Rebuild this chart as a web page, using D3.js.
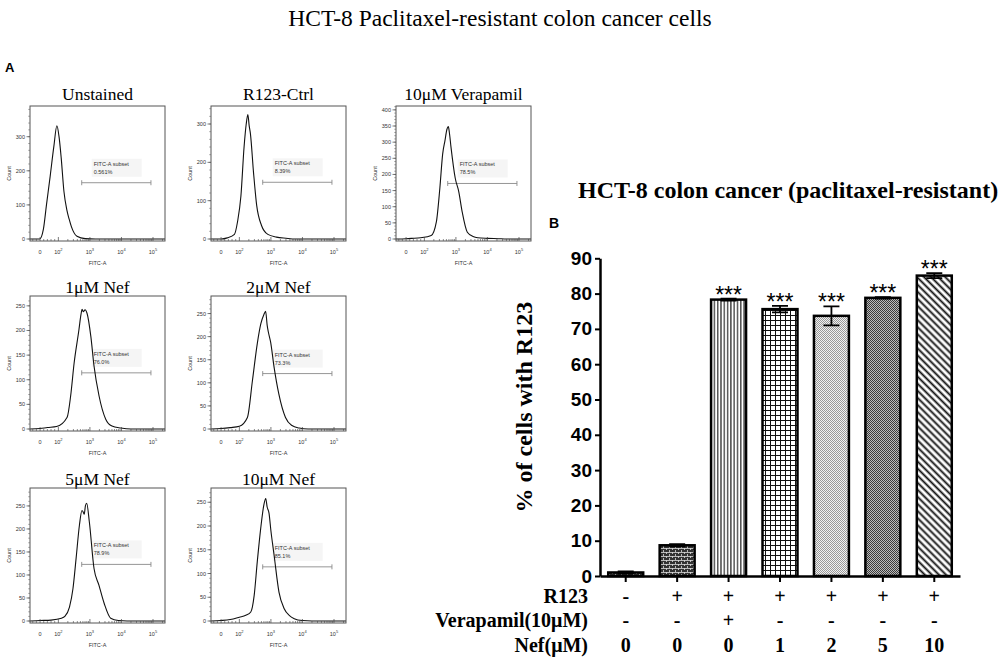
<!DOCTYPE html>
<html>
<head>
<meta charset="utf-8">
<script src="https://cdn.jsdelivr.net/npm/d3@7"></script>
<style>
  body { margin: 0; background: #fff; }
  svg { display: block; }
</style>
</head>
<body>
<svg id="fig" width="1000" height="659"></svg>
<script>
// ---------- Panel A data (flow cytometry histograms, FITC-A vs count) ----------
const histTitles = ['Unstained', 'R123-Ctrl', '10μM Verapamil', '1μM Nef', '2μM Nef', '5μM Nef', '10μM Nef'];
const histSubset = ['0.561%', '8.39%', '78.5%', '76.0%', '73.3%', '78.9%', '85.1%'];
const histYMax = [390, 347, 412, 270, 288, 289, 280];
const histYStep = [100, 100, 50, 50, 50, 50, 50];
const histGateCount = [165, 148, 172, 114, 120, 123, 114];
const gateRange = [550, 86000];
const fitcTicks = [0, 1e2, 1e3, 1e4, 1e5];

// [FITC-A, count]
const hUnstained = [[-55,0],[-2,0],[18,28],[35,100],[55,183],[75,270],[92,332],[105,300],[123,238],[150,140],[187,84],[220,58],[257,37],[389,8],[710,1],[1500,0],[240000,0]];
const hR123 = [[-55,0],[0,0],[34,3],[73,12],[90,45],[112,112],[141,240],[165,300],[186,325],[205,295],[224,275],[282,172],[355,87],[500,36],[800,12],[1500,5],[3000,2],[6000,0],[240000,0]];
const hVerapamil = [[-55,0],[0,1],[30,2],[80,4],[165,11],[240,53],[310,158],[380,263],[450,305],[520,340],[575,348],[620,330],[700,284],[950,189],[1230,147],[1580,84],[2300,21],[3500,8],[4900,4],[10000,2],[22000,1],[40000,0],[240000,0]];
const hNef1 = [[-55,0],[0,1],[40,3],[90,5],[190,24],[245,67],[316,134],[450,202],[520,232],[565,243],[620,238],[700,242],[810,235],[1070,188],[1350,128],[1950,67],[3170,20],[5000,6],[9500,2],[20000,0],[240000,0]];
const hNef2 = [[-55,0],[0,1],[50,3],[100,6],[180,25],[260,105],[370,185],[480,228],[600,248],[680,255],[760,225],[830,210],[980,188],[1260,134],[1780,76],[2900,25],[4500,8],[7900,2],[15000,0],[240000,0]];
const hNef5 = [[-55,0],[0,1],[60,2],[125,6],[160,10],[225,30],[290,70],[365,136],[465,208],[560,240],[620,236],[660,232],[720,250],[790,256],[960,215],[1350,114],[1930,78],[2840,38],[4560,6],[8000,1],[15000,0],[240000,0]];
const hNef10 = [[-55,0],[0,1],[50,3],[100,8],[160,12],[230,19],[295,54],[370,125],[475,195],[600,245],[685,258],[760,240],[870,227],[1000,190],[1260,139],[1800,61],[2640,26],[3800,12],[5500,5],[10000,1],[20000,0],[240000,0]];
const histSeries = [hUnstained, hR123, hVerapamil, hNef1, hNef2, hNef5, hNef10];

// ---------- Panel B data (bar chart) ----------
const barCats = ['Unstained', 'R123', 'Verapamil', 'Nef1', 'Nef2', 'Nef5', 'Nef10'];
const barValues = [1.0, 8.7, 78.3, 75.6, 73.7, 78.8, 85.1];
const barErrors = [0.3, 0.3, 0.3, 0.9, 2.7, 0.2, 0.7];
const barStars = ['', '', '***', '***', '***', '***', '***'];
const rowR123 = ['-', '+', '+', '+', '+', '+', '+'];
const rowVerapamil = ['-', '-', '+', '-', '-', '-', '-'];
const rowNef = ['0', '0', '0', '1', '2', '5', '10'];
const yTicksB = [0, 10, 20, 30, 40, 50, 60, 70, 80, 90];

const SERIF = '"Liberation Serif", "Times New Roman", serif';
const SANS = '"Liberation Sans", Arial, sans-serif';

const svg = d3.select('#fig');
const defs = svg.append('defs');

// titles
svg.append('text')
    .attr('x', 500).attr('y', 26)
    .attr('text-anchor', 'middle')
    .style('font-family', SERIF).style('font-size', '23.5px')
    .text('HCT-8 Paclitaxel-resistant colon cancer cells');

svg.append('text')
    .attr('x', 5).attr('y', 72)
    .style('font-family', SANS).style('font-size', '13px').style('font-weight', 'bold')
    .text('A');

// ---------- Panel A: histogram grid ----------
const colLeft = [30, 211, 396];
const rowTop = [106, 296, 488];
const slots = [[0, 0], [1, 0], [2, 0], [0, 1], [1, 1], [0, 2], [1, 2]];
const titleGap = [6, 3, 3];
const W = 135, H = 135;

// biexponential-like display: linear from 0 to 10^2, log above
const LIN_UNITS = 0.58;
function fitcT(v) {
    return v <= 100 ? v / 100 * LIN_UNITS : LIN_UNITS + Math.log10(v / 100);
}

function supLabel(sel, v) {
    sel.text(null);
    if (v === 0) { sel.text('0'); return; }
    sel.append('tspan').text('10');
    sel.append('tspan').attr('dy', -3).style('font-size', '4px').text(Math.round(Math.log10(v)));
}

const minorX = [-40, -20, 20, 40, 60, 80];
[2, 3, 4].forEach(k => d3.range(2, 10).forEach(m => minorX.push(m * Math.pow(10, k))));
minorX.push(2e5);

histSeries.forEach((data, i) => {
    const [c, r] = slots[i];
    const g = svg.append('g').attr('transform', `translate(${colLeft[c]},${rowTop[r]})`);

    const xs = d3.scaleLinear().domain([fitcT(-55), fitcT(240000)]).range([0, W]);
    const x = v => xs(fitcT(v));
    const y = d3.scaleLinear().domain([-histYMax[i] * 0.015, histYMax[i]]).range([H, 0]);

    const clipId = 'clip' + i;
    defs.append('clipPath').attr('id', clipId)
        .append('rect').attr('width', W).attr('height', H);

    // title
    g.append('text')
        .attr('x', W / 2).attr('y', -titleGap[r])
        .attr('text-anchor', 'middle')
        .style('font-family', SERIF).style('font-size', '17.5px')
        .text(histTitles[i]);

    // gate + label
    const gy = y(histGateCount[i]);
    const gx0 = x(gateRange[0]), gx1 = x(gateRange[1]);
    g.append('rect')
        .attr('x', gx0 + 10).attr('y', gy - 24)
        .attr('width', 50).attr('height', 18)
        .attr('fill', '#f5f5f5');
    g.append('text')
        .attr('x', gx0 + 12).attr('y', gy - 17)
        .style('font-family', SANS).style('font-size', '5.5px').style('fill', '#333')
        .text('FITC-A subset');
    g.append('text')
        .attr('x', gx0 + 12).attr('y', gy - 9)
        .style('font-family', SANS).style('font-size', '5.5px').style('fill', '#333')
        .text(histSubset[i]);
    g.append('path')
        .attr('d', `M${gx0},${gy}H${gx1}M${gx0},${gy - 2.5}V${gy + 2.5}M${gx1},${gy - 2.5}V${gy + 2.5}`)
        .attr('stroke', '#8a8a8a').attr('stroke-width', 0.9).attr('fill', 'none');

    // histogram line
    const line = d3.line()
        .x(d => x(d[0]))
        .y(d => y(d[1]))
        .curve(d3.curveMonotoneX);
    g.append('path')
        .datum(data)
        .attr('clip-path', `url(#${clipId})`)
        .attr('d', line)
        .attr('fill', 'none')
        .attr('stroke', '#111')
        .attr('stroke-width', 1.1);

    // x axis: ticks inside the frame
    g.selectAll('.xminor').data(minorX).join('line')
        .attr('x1', d => x(d)).attr('x2', d => x(d))
        .attr('y1', H).attr('y2', H - 2)
        .attr('stroke', '#444').attr('stroke-width', 0.6);
    g.selectAll('.xmajor').data(fitcTicks).join('line')
        .attr('x1', d => x(d)).attr('x2', d => x(d))
        .attr('y1', H).attr('y2', H - 4)
        .attr('stroke', '#444').attr('stroke-width', 0.7);
    g.selectAll('.xlab').data(fitcTicks).join('text')
        .attr('x', d => x(d)).attr('y', H + 13)
        .attr('text-anchor', 'middle')
        .style('font-family', SANS).style('font-size', '5.5px').style('fill', '#333')
        .each(function (d) { supLabel(d3.select(this), d); });
    g.append('text')
        .attr('x', W / 2).attr('y', H + 24)
        .attr('text-anchor', 'middle')
        .style('font-family', SANS).style('font-size', '5.5px').style('fill', '#333')
        .text('FITC-A');

    // y axis
    const yMajor = d3.range(0, histYMax[i], histYStep[i]);
    const yMinor = d3.range(0, histYMax[i], histYStep[i] / 5);
    g.selectAll('.yminor').data(yMinor).join('line')
        .attr('x1', 0).attr('x2', -1.8)
        .attr('y1', d => y(d)).attr('y2', d => y(d))
        .attr('stroke', '#555').attr('stroke-width', 0.5);
    g.selectAll('.ymajor').data(yMajor).join('line')
        .attr('x1', 0).attr('x2', -3.5)
        .attr('y1', d => y(d)).attr('y2', d => y(d))
        .attr('stroke', '#444').attr('stroke-width', 0.7);
    g.selectAll('.ylab').data(yMajor).join('text')
        .attr('x', -5).attr('y', d => y(d) + 2)
        .attr('text-anchor', 'end')
        .style('font-family', SANS).style('font-size', '5.5px').style('fill', '#333')
        .text(d => d);
    g.append('text')
        .attr('transform', `translate(-19,${H / 2}) rotate(-90)`)
        .attr('text-anchor', 'middle')
        .style('font-family', SANS).style('font-size', '5.5px').style('fill', '#333')
        .text('Count');

    // frame
    g.append('rect')
        .attr('width', W).attr('height', H)
        .attr('fill', 'none').attr('stroke', '#555').attr('stroke-width', 1);
});

// ---------- Panel B: bar chart ----------
function pattern(id, w, h, transform) {
    const p = defs.append('pattern').attr('id', id)
        .attr('patternUnits', 'userSpaceOnUse')
        .attr('width', w).attr('height', h);
    if (transform) p.attr('patternTransform', transform);
    return p;
}
const pBrick = pattern('pBrick', 6, 4);
pBrick.append('rect').attr('width', 6).attr('height', 4).attr('fill', '#333');
pBrick.append('path').attr('d', 'M0,0.5H6M0.5,0V2M3.5,2V4').attr('stroke', '#ddd').attr('stroke-width', 0.8);

const pVert = pattern('pVert', 3.3, 4);
pVert.append('rect').attr('width', 3.3).attr('height', 4).attr('fill', '#fff');
pVert.append('line').attr('x1', 1.6).attr('x2', 1.6).attr('y1', 0).attr('y2', 4).attr('stroke', '#111').attr('stroke-width', 1.1);

const pGrid = pattern('pGrid', 5, 5);
pGrid.append('rect').attr('width', 5).attr('height', 5).attr('fill', '#fff');
pGrid.append('path').attr('d', 'M0,0.5H5M0.5,0V5').attr('stroke', '#111').attr('stroke-width', 1);

const pDotLight = pattern('pDotLight', 2, 2);
pDotLight.append('rect').attr('width', 2).attr('height', 2).attr('fill', '#f2f2f2');
pDotLight.append('path').attr('d', 'M0,0h1v1h-1zM1,1h1v1h-1z').attr('fill', '#999');

const pDotDark = pattern('pDotDark', 2, 2);
pDotDark.append('rect').attr('width', 2).attr('height', 2).attr('fill', '#bbb');
pDotDark.append('path').attr('d', 'M0,0h1v1h-1zM1,1h1v1h-1z').attr('fill', '#3a3a3a');

const pDiag = pattern('pDiag', 5, 5, 'rotate(-45)');
pDiag.append('rect').attr('width', 5).attr('height', 5).attr('fill', '#fff');
pDiag.append('line').attr('x1', 2.5).attr('x2', 2.5).attr('y1', 0).attr('y2', 5).attr('stroke', '#111').attr('stroke-width', 1.9);

const barFills = ['url(#pBrick)', 'url(#pBrick)', 'url(#pVert)', 'url(#pGrid)', 'url(#pDotLight)', 'url(#pDotDark)', 'url(#pDiag)'];

svg.append('text')
    .attr('x', 578).attr('y', 198)
    .style('font-family', SERIF).style('font-size', '24px').style('font-weight', 'bold')
    .text('HCT-8 colon cancer (paclitaxel-resistant)');
svg.append('text')
    .attr('x', 549).attr('y', 228)
    .style('font-family', SANS).style('font-size', '14px').style('font-weight', 'bold')
    .text('B');

const xb = d3.scaleBand().domain(barCats).range([600, 960]).paddingInner(0.32).paddingOuter(0.16);
const yb = d3.scaleLinear().domain([0, 90]).range([576, 258.3]);
const bw = xb.bandwidth();

const gb = svg.append('g');

gb.selectAll('rect.bar').data(barCats).join('rect')
    .attr('class', 'bar')
    .attr('x', d => xb(d))
    .attr('y', (d, i) => yb(barValues[i]))
    .attr('width', bw)
    .attr('height', (d, i) => yb(0) - yb(barValues[i]))
    .attr('fill', (d, i) => barFills[i])
    .attr('stroke', '#000').attr('stroke-width', 2.5);

// error bars
barCats.forEach((c, i) => {
    const cx = xb(c) + bw / 2;
    const top = yb(barValues[i] + barErrors[i]);
    const bot = yb(barValues[i] - barErrors[i]);
    gb.append('path')
        .attr('d', `M${cx},${top}V${bot}M${cx - 8},${top}H${cx + 8}M${cx - 8},${bot}H${cx + 8}`)
        .attr('stroke', '#000').attr('stroke-width', 1.8).attr('fill', 'none');
    if (barStars[i]) {
        gb.append('text')
            .attr('x', cx).attr('y', top + 4)
            .attr('text-anchor', 'middle')
            .style('font-family', SANS).style('font-size', '23px')
            .text(barStars[i]);
    }
});

// axes
const yAxisB = gb.append('g')
    .attr('transform', 'translate(600,0)')
    .call(d3.axisLeft(yb).tickValues(yTicksB).tickSize(5).tickSizeOuter(0).tickPadding(3));
yAxisB.select('.domain').attr('stroke-width', 2.5);
yAxisB.selectAll('.tick line').attr('stroke-width', 2);
yAxisB.selectAll('.tick text')
    .style('font-family', SANS).style('font-size', '19px').style('font-weight', 'bold').attr('fill', '#000');

const xAxisB = gb.append('g')
    .attr('transform', `translate(0,${yb(0)})`)
    .call(d3.axisBottom(xb).tickSize(6).tickSizeOuter(0).tickFormat(''));
xAxisB.select('.domain').attr('stroke-width', 2.5);
xAxisB.selectAll('.tick line').attr('stroke-width', 2);

svg.append('text')
    .attr('transform', `translate(532,${(yb(0) + yb(90)) / 2 - 10}) rotate(-90)`)
    .attr('text-anchor', 'middle')
    .style('font-family', SERIF).style('font-size', '24px').style('font-weight', 'bold')
    .text('% of cells with R123');

// treatment table
const tableRows = [
    { label: 'R123', vals: rowR123, y: 603 },
    { label: 'Verapamil(10μM)', vals: rowVerapamil, y: 627 },
    { label: 'Nef(μM)', vals: rowNef, y: 652 }
];
tableRows.forEach(row => {
    svg.append('text')
        .attr('x', 588).attr('y', row.y)
        .attr('text-anchor', 'end')
        .style('font-family', SERIF).style('font-size', '20px').style('font-weight', 'bold')
        .text(row.label);
    svg.selectAll(null).data(barCats).join('text')
        .attr('x', d => xb(d) + bw / 2)
        .attr('y', row.y)
        .attr('text-anchor', 'middle')
        .style('font-family', SERIF).style('font-size', '20px').style('font-weight', 'bold')
        .text((d, i) => row.vals[i]);
});
</script>
</body>
</html>
